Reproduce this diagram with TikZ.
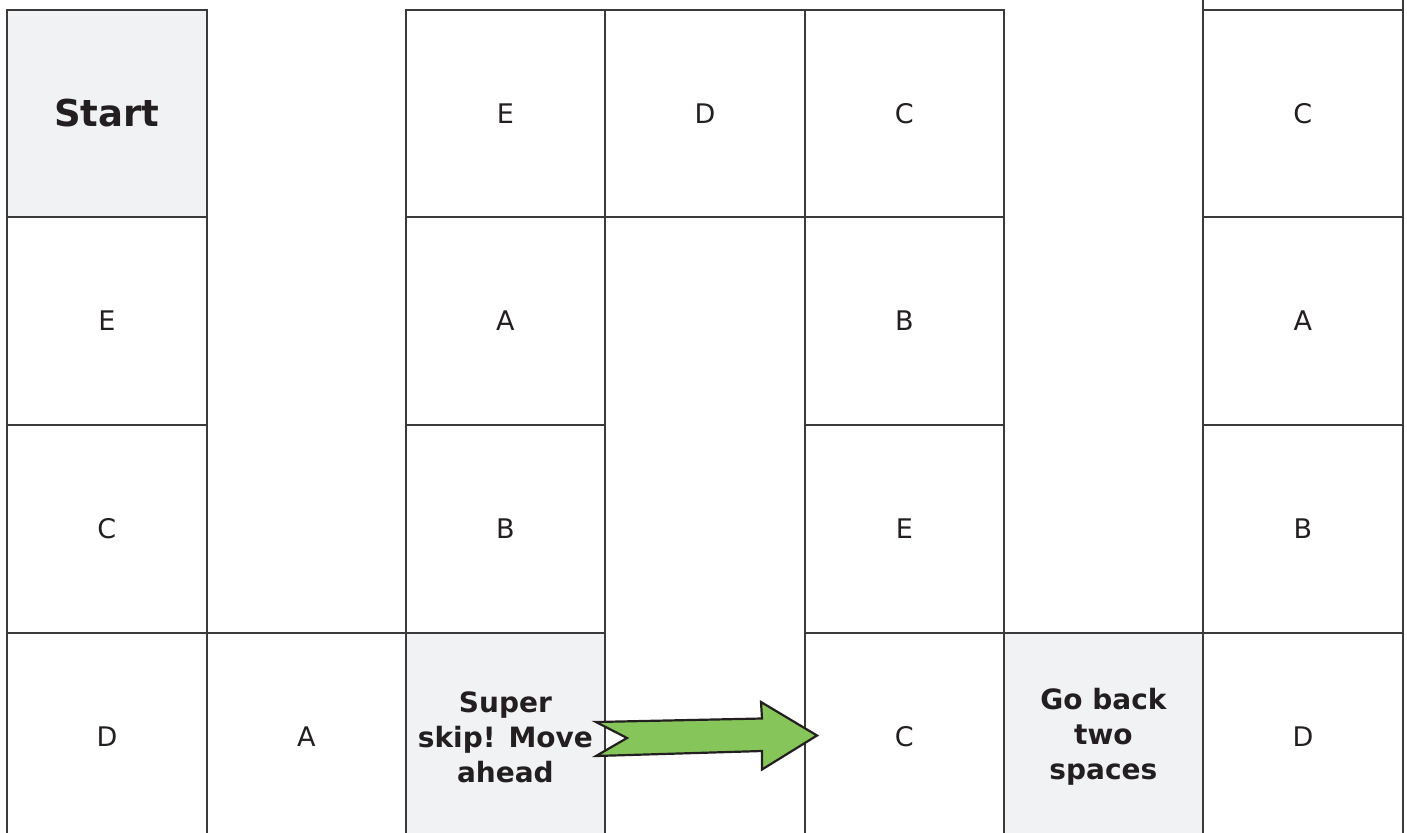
\documentclass[tikz,border=0pt]{standalone}
\usepackage{fontspec}
\setmainfont{DejaVu Sans}
\definecolor{gridline}{RGB}{58,58,58}
\definecolor{txt}{RGB}{35,31,32}
\definecolor{special}{RGB}{241,242,244}
\definecolor{arrowgreen}{RGB}{134,197,90}
\begin{document}
\begin{tikzpicture}[x=1pt,y=-1pt,
  cell/.style={draw=gridline,line width=1.8pt,anchor=north west,minimum width=199pt,minimum height=208pt,inner sep=0pt,text=txt,font=\fontsize{27}{32}\selectfont,align=center},
  wide/.style={minimum width=200pt},
  short/.style={minimum height=207pt},
  specialcell/.style={cell,fill=special,font=\fontsize{28}{35}\selectfont\bfseries},
  startcell/.style={cell,fill=special,font=\fontsize{37}{44}\selectfont\bfseries}]
\useasboundingbox (0,0) rectangle (1407,832);
\clip (0,0) rectangle (1407,832);
% column x: 6, 206, 405, 604, 804, 1003, 1202, 1402
% row y: 9, 216, 424, 632
\node[cell,wide] (top7) at (1202,-199) {};
% row 1
\node[startcell,wide,short] (r1c1) at (6,9) {Start};
\node[cell,short] (r1c3) at (405,9) {E};
\node[cell,wide,short] (r1c4) at (604,9) {D};
\node[cell,short] (r1c5) at (804,9) {C};
\node[cell,wide,short] (r1c7) at (1202,9) {C};
% row 2
\node[cell,wide] (r2c1) at (6,216) {E};
\node[cell] (r2c3) at (405,216) {A};
\node[cell] (r2c5) at (804,216) {B};
\node[cell,wide] (r2c7) at (1202,216) {A};
% row 3
\node[cell,wide] (r3c1) at (6,424) {C};
\node[cell] (r3c3) at (405,424) {B};
\node[cell] (r3c5) at (804,424) {E};
\node[cell,wide] (r3c7) at (1202,424) {B};
% row 4
\node[cell,wide] (r4c1) at (6,632) {D};
\node[cell] (r4c2) at (206,632) {A};
\node[specialcell] (r4c3) at (405,632) {Super\\skip! Move\\ahead};
\node[cell] (r4c5) at (804,632) {C};
\node[specialcell] (r4c6) at (1003,632) {Go back\\two\\spaces};
\node[cell,wide] (r4c7) at (1202,632) {D};
% arrow
\draw[fill=arrowgreen,draw=txt,line width=2.2pt,line join=miter]
  (596,722) -- (762,718.5) -- (761,702) -- (817,735.5) -- (762,769.5) -- (762,751) -- (596,756) -- (627,738) -- cycle;
\end{tikzpicture}
\end{document}
